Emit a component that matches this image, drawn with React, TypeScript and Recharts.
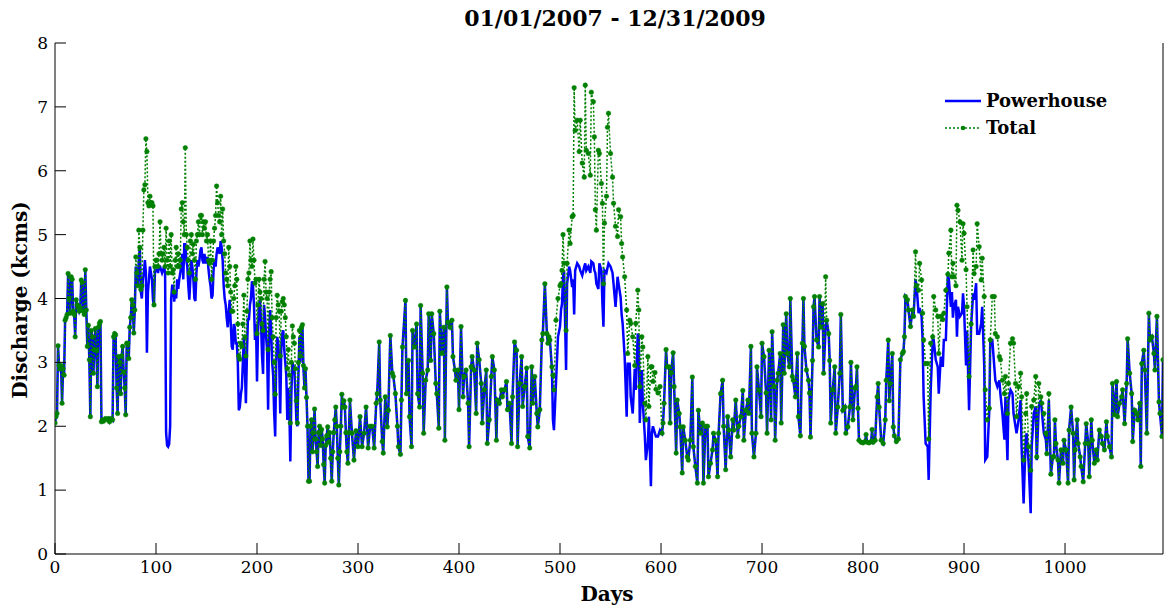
import { LineChart, Line, XAxis, YAxis } from 'recharts'

// Days 0-79: no spill, total = powerhouse
const daysA = [
  0, 1, 2, 3, 4, 5, 6, 7, 8, 9,
  10, 11, 12, 13, 14, 15, 16, 17, 18, 19,
  20, 21, 22, 23, 24, 25, 26, 27, 28, 29,
  30, 31, 32, 33, 34, 35, 36, 37, 38, 39,
  40, 41, 42, 43, 44, 45, 46, 47, 48, 50,
  52, 53, 54, 55, 56, 57, 58, 59, 60, 61,
  62, 63, 64, 65, 66, 67, 68, 69, 70, 71,
  72, 73, 74, 75, 76, 77, 78, 79,
]
const powerA = [
  2.05, 2.15, 2.2, 3.26, 2.95, 2.9, 2.95, 2.36, 2.9, 2.8,
  3.66, 3.7, 3.75, 4.39, 4.0, 3.77, 4.34, 4.3, 3.8, 3.75,
  3.4, 3.98, 3.9, 3.87, 3.8, 3.85, 4.29, 4.25, 3.8, 3.75,
  4.45, 3.82, 3.25, 3.58, 3.04, 2.15, 3.5, 3.4, 2.83, 3.2,
  3.53, 3.19, 2.62, 3.55, 3.61, 3.64, 2.07, 2.1, 2.08, 2.12,
  2.1, 2.12, 2.07, 2.1, 2.12, 2.1, 3.4, 3.45, 3.43, 2.6,
  2.2, 3.09, 3.0, 2.51, 3.1, 3.25, 2.85, 2.6, 2.18, 3.3,
  3.3, 3.06, 3.55, 3.7, 3.98, 3.9, 3.46, 3.82,
]
const totalA = [
  2.05, 2.15, 2.2, 3.26, 2.95, 2.9, 2.95, 2.36, 2.9, 2.8,
  3.66, 3.7, 3.75, 4.39, 4.0, 3.77, 4.34, 4.3, 3.8, 3.75,
  3.4, 3.98, 3.9, 3.87, 3.8, 3.85, 4.29, 4.25, 3.8, 3.75,
  4.45, 3.82, 3.25, 3.58, 3.04, 2.15, 3.5, 3.4, 2.83, 3.2,
  3.53, 3.19, 2.62, 3.55, 3.61, 3.64, 2.07, 2.1, 2.08, 2.12,
  2.1, 2.12, 2.07, 2.1, 2.12, 2.1, 3.4, 3.45, 3.43, 2.6,
  2.2, 3.09, 3.0, 2.51, 3.1, 3.25, 2.85, 2.6, 2.18, 3.3,
  3.3, 3.06, 3.55, 3.7, 3.98, 3.9, 3.46, 3.82,
]

// Days 80-196: spring spill 2007
const daysB = [
  80, 81, 82, 83, 84, 85, 86, 87, 88, 89,
  90, 91, 92, 93, 94, 95, 96, 97, 98, 99,
  100, 101, 102, 103, 104, 105, 106, 107, 108, 109,
  110, 111, 112, 113, 114, 115, 116, 117, 118, 119,
  120, 121, 122, 123, 124, 125, 126, 127, 128, 129,
  130, 131, 132, 133, 134, 135, 136, 137, 138, 139,
  140, 141, 142, 143, 144, 145, 146, 147, 148, 149,
  150, 151, 152, 153, 154, 155, 156, 157, 158, 159,
  160, 161, 162, 163, 164, 165, 166, 167, 168, 169,
  170, 171, 172, 173, 174, 175, 176, 177, 178, 179,
  180, 181, 182, 183, 184, 185, 186, 187, 188, 189,
  190, 191, 192, 193, 194, 195, 196,
]
const powerB = [
  4.5, 4.3, 4.2, 4.6, 4.8, 4.1, 4.0, 4.3, 4.4, 4.6,
  4.4, 3.15, 4.1, 4.3, 4.5, 4.4, 4.3, 3.98, 3.9, 4.45,
  4.45, 4.45, 4.4, 4.5, 4.5, 4.45, 4.4, 4.45, 4.5, 4.4,
  1.9, 1.7, 1.68, 1.72, 2.0, 4.0, 4.2, 4.2, 3.95, 4.1,
  4.0, 4.3, 4.15, 4.3, 4.4, 4.5, 4.7, 4.3, 4.85, 4.85,
  4.6, 4.5, 4.2, 3.98, 4.3, 4.6, 4.5, 4.3, 4.0, 3.96,
  4.4, 4.6, 4.5, 4.6, 4.75, 4.8, 4.6, 4.55, 4.7, 4.55,
  4.6, 4.65, 4.45, 4.3, 4.2, 4.0, 4.05, 4.45, 4.6, 4.5,
  4.7, 4.8, 4.75, 4.7, 4.9, 4.8, 4.6, 4.2, 4.0, 3.9,
  3.7, 3.55, 3.8, 3.98, 3.6, 3.25, 3.2, 3.6, 3.55, 3.3,
  3.3, 3.0, 2.25, 2.3, 2.5, 2.6, 3.0, 3.4, 2.9, 2.36,
  3.1, 3.7, 3.66, 3.9, 4.0, 4.27, 4.2,
]
const totalB = [
  4.65, 4.4, 4.2, 5.07, 4.8, 4.14, 4.2, 5.07, 5.7, 5.78,
  6.5, 6.3, 5.5, 5.45, 5.6, 5.5, 5.5, 5.45, 3.9, 4.5,
  4.6, 4.6, 4.5, 4.7, 5.2, 4.7, 4.6, 4.7, 4.8, 4.5,
  5.1, 4.6, 4.4, 4.9, 4.5, 5.0, 4.4, 4.45, 4.1, 4.6,
  4.8, 4.5, 4.7, 4.5, 4.6, 5.4, 5.5, 5.2, 5.0, 6.36,
  5.0, 4.8, 4.6, 4.4, 4.9, 5.0, 4.7, 4.85, 4.6, 4.3,
  4.9, 5.0, 5.2, 5.0, 5.3, 5.3, 5.0, 5.2, 5.1, 5.2,
  4.9, 5.0, 4.6, 4.55, 4.9, 4.3, 4.6, 4.9, 5.1, 5.3,
  5.76, 5.5, 5.3, 5.2, 5.6, 5.0, 5.4, 4.9, 4.7, 4.4,
  4.3, 4.2, 4.8, 4.5, 4.1, 3.8, 3.8, 4.0, 4.2, 4.5,
  4.3, 3.6, 3.1, 3.05, 3.3, 3.25, 3.6, 4.05, 3.4, 3.1,
  3.8, 4.3, 4.4, 4.9, 4.6, 4.5, 4.93,
]

// Days 197-250: spill tapering off
const daysC = [
  197, 198, 199, 200, 201, 202, 203, 204, 205, 206,
  207, 208, 209, 210, 211, 212, 213, 214, 215, 216,
  217, 218, 219, 220, 221, 222, 223, 224, 225, 226,
  227, 228, 229, 230, 231, 232, 233, 234, 235, 236,
  237, 238, 239, 240, 241, 242, 243, 244, 245, 246,
  247, 248, 249, 250,
]
const powerC = [
  3.9, 3.35, 3.6, 2.7, 3.5, 3.9, 3.97, 3.6, 3.1, 2.82,
  3.9, 3.7, 3.4, 3.2, 2.26, 3.5, 3.82, 3.5, 3.0, 2.8,
  2.2, 1.84, 3.0, 3.4, 3.3, 3.0, 2.2, 3.2, 3.45, 3.5,
  3.2, 3.0, 2.8, 2.1, 2.6, 2.3, 1.45, 2.5, 3.0, 2.95,
  2.9, 2.5, 2.1, 2.0, 2.8, 3.4, 3.0, 3.5, 3.55, 2.9,
  2.6, 2.9, 2.45, 2.0,
]
const totalC = [
  4.6, 4.24, 4.3, 3.45, 3.9, 4.3, 4.1, 4.0, 3.6, 3.5,
  4.3, 4.58, 4.1, 4.0, 3.2, 4.1, 4.3, 4.42, 3.7, 3.4,
  3.0, 2.5, 3.7, 4.05, 3.9, 3.8, 3.1, 3.8, 3.95, 4.0,
  3.9, 3.7, 3.4, 2.9, 3.2, 2.8, 2.05, 3.0, 3.57, 3.4,
  3.3, 2.9, 2.4, 2.05, 3.0, 3.5, 3.1, 3.55, 3.59, 2.95,
  2.6, 2.9, 2.45, 2.0,
]

// Days 251-489: no spill
const daysD = [
  251, 252, 253, 254, 255, 256, 257, 258, 259, 260,
  261, 262, 263, 264, 265, 266, 267, 268, 269, 270,
  271, 272, 273, 274, 275, 276, 277, 278, 279, 280,
  281, 282, 283, 284, 285, 286, 287, 288, 289, 290,
  291, 292,
  294, 296, 298, 300, 302, 304, 306, 308, 310, 312,
  314, 316, 318, 319, 321, 322, 324, 325, 327, 329,
  330, 332, 334, 335, 337, 339, 340, 342, 343, 344,
  347, 348, 350, 351, 353, 354, 356, 358, 359, 361,
  362, 364, 365, 367, 369, 370, 372, 373, 375, 377,
  378, 380, 381, 383, 385, 386, 388, 389, 391, 393,
  394, 396, 397, 399, 400, 402, 404, 405, 407, 409,
  410, 412, 413, 415, 417, 418, 420, 422, 423, 425,
  427, 428, 430, 432, 433, 435, 437, 438, 440, 442,
  443, 445, 447, 448, 450, 452, 453, 455, 457, 458,
  460, 462, 463, 465, 467, 468, 470, 472, 473, 475,
  477, 478, 480, 482, 483, 485, 487, 488, 489,
]
const powerD = [
  1.14, 1.14, 2.0, 2.1, 1.6, 1.9, 2.27, 1.8, 1.6, 1.37,
  1.9, 2.0, 1.7, 1.95, 1.8, 1.4, 1.11, 1.7, 1.85, 1.99,
  1.75, 1.9, 1.5, 1.14, 1.6, 1.9, 2.1, 2.3, 2.0, 1.5,
  1.08, 1.6, 2.0, 2.5, 2.3, 2.4, 2.3, 1.9, 1.6, 1.42,
  1.9, 2.41,
  1.89, 1.47, 1.93, 1.68, 2.15, 1.68, 1.89, 2.3, 1.66, 2.0,
  2.0, 1.66, 2.36, 2.51, 3.32, 2.41, 1.76, 1.58, 2.46, 1.99,
  2.25, 3.42, 2.83, 2.78, 2.51, 2.0, 1.68, 1.56, 2.41, 3.24,
  3.97, 2.51, 3.03, 2.15, 1.68, 3.5, 3.24, 3.6, 2.51, 2.3,
  3.89, 2.83, 1.89, 2.72, 2.88, 3.76, 3.03, 3.76, 3.45, 2.67,
  2.51, 1.97, 3.8, 3.14, 3.55, 1.78, 4.18, 3.63, 3.55, 3.66,
  3.09, 2.88, 2.72, 2.88, 2.26, 3.56, 2.46, 2.78, 2.88, 2.36,
  1.68, 2.93, 3.09, 2.88, 2.2, 3.3, 3.04, 2.67, 2.05, 2.57,
  2.88, 1.73, 2.1, 2.78, 3.09, 2.88, 1.78, 2.41, 2.36, 2.57,
  2.46, 2.57, 2.7, 2.26, 2.36, 1.73, 2.46, 3.32, 3.19, 1.68,
  2.67, 3.09, 2.31, 2.62, 2.91, 1.84, 1.66, 2.93, 2.36, 2.78,
  2.2, 1.99, 2.26, 3.35, 3.45, 4.23, 3.45, 3.3, 3.4,
]
const totalD = [
  1.14, 1.14, 2.0, 2.1, 1.6, 1.9, 2.27, 1.8, 1.6, 1.37,
  1.9, 2.0, 1.7, 1.95, 1.8, 1.4, 1.11, 1.7, 1.85, 1.99,
  1.75, 1.9, 1.5, 1.14, 1.6, 1.9, 2.1, 2.3, 2.0, 1.5,
  1.08, 1.6, 2.0, 2.5, 2.3, 2.4, 2.3, 1.9, 1.6, 1.42,
  1.9, 2.41,
  1.89, 1.47, 1.93, 1.68, 2.15, 1.68, 1.89, 2.3, 1.66, 2.0,
  2.0, 1.66, 2.36, 2.51, 3.32, 2.41, 1.76, 1.58, 2.46, 1.99,
  2.25, 3.42, 2.83, 2.78, 2.51, 2.0, 1.68, 1.56, 2.41, 3.24,
  3.97, 2.51, 3.03, 2.15, 1.68, 3.5, 3.24, 3.6, 2.51, 2.3,
  3.89, 2.83, 1.89, 2.72, 2.88, 3.76, 3.03, 3.76, 3.45, 2.67,
  2.51, 1.97, 3.8, 3.14, 3.55, 1.78, 4.18, 3.63, 3.55, 3.66,
  3.09, 2.88, 2.72, 2.88, 2.26, 3.56, 2.46, 2.78, 2.88, 2.36,
  1.68, 2.93, 3.09, 2.88, 2.2, 3.3, 3.04, 2.67, 2.05, 2.57,
  2.88, 1.73, 2.1, 2.78, 3.09, 2.88, 1.78, 2.41, 2.36, 2.57,
  2.46, 2.57, 2.7, 2.26, 2.36, 1.73, 2.46, 3.32, 3.19, 1.68,
  2.67, 3.09, 2.31, 2.62, 2.91, 1.84, 1.66, 2.93, 2.36, 2.78,
  2.2, 1.99, 2.26, 3.35, 3.45, 4.23, 3.45, 3.3, 3.4,
]

// Days 490-599: spring spill 2008
const daysE = [
  490, 492, 493, 494, 496, 498, 500, 501, 502, 503,
  504, 506, 507, 509, 510, 512, 513, 514, 515, 517,
  519, 520, 522, 524, 525, 526, 528, 530, 531, 533,
  534, 535, 536, 538, 539, 541, 542, 543, 544, 546,
  547, 548, 550, 552, 553, 555, 557, 558, 560, 561,
  562, 564, 566, 567, 569, 570, 572, 574, 575, 577,
  578, 579, 581, 582, 584, 585, 587, 588, 590, 591,
  592, 594, 595, 597, 599,
]
const powerE = [
  3.35, 2.9, 2.1, 1.94, 2.67, 3.4, 3.56, 3.82, 3.92, 4.34,
  4.44, 2.88, 4.23, 4.5, 4.44, 4.18, 4.3, 3.75, 4.44, 4.55,
  4.5, 4.44, 4.36, 4.5, 4.55, 4.44, 4.5, 4.4, 4.58, 4.55,
  4.44, 4.4, 4.23, 4.15, 4.55, 4.44, 3.92, 3.56, 4.44, 4.4,
  4.48, 4.55, 4.5, 4.4, 4.23, 3.87, 4.34, 4.23, 4.02, 3.75,
  3.61, 3.09, 2.15, 2.98, 2.98, 2.46, 2.2, 2.9, 2.57, 3.45,
  3.4, 2.05, 2.88, 2.36, 1.84, 1.47, 1.74, 2.15, 1.06, 1.9,
  2.0, 1.89, 1.84, 1.84, 1.94,
]
const totalE = [
  3.35, 2.93, 2.8, 2.57, 3.66, 4.0, 4.2, 4.23, 4.44, 5.0,
  4.55, 3.5, 4.55, 5.07, 4.86, 5.28, 5.3, 7.3, 6.63, 6.79,
  6.3, 6.79, 6.12, 5.9, 7.34, 6.32, 6.27, 5.93, 7.23, 7.08,
  6.53, 5.39, 5.07, 6.32, 6.27, 5.8, 5.49, 4.23, 5.18, 5.6,
  6.68, 6.9, 6.27, 5.9, 5.49, 5.13, 4.97, 5.39, 5.28, 4.86,
  4.65, 4.34, 3.82, 3.14, 3.66, 3.61, 3.4, 2.95, 3.61, 4.13,
  3.82, 2.62, 3.4, 3.24, 2.36, 2.1, 3.09, 2.31, 2.93, 2.93,
  2.7, 2.84, 2.58, 2.52, 2.62,
]

// Days 601-795: mostly no spill
const daysF = [
  601, 602, 603, 605, 606, 608, 609, 610, 612, 613,
  615, 616, 618, 619, 621, 622, 624, 626, 627, 629,
  631, 632, 634, 636, 637, 639, 641, 642, 644, 646,
  647, 649, 651, 652, 654, 656, 657, 659, 661, 662,
  664, 666, 667, 669, 671, 672, 674, 676, 677, 679,
  681, 682, 684, 686, 687, 689, 690, 692, 694, 695,
  697, 699, 700, 702, 704, 705, 707, 709, 710, 712,
  713, 715, 716, 718, 719, 721, 722, 724, 725, 727,
  728, 730, 731, 733, 735, 736, 738, 740, 741, 742,
  744, 746, 747, 748, 750, 751, 752, 754, 756, 757,
  758, 760, 761, 763, 764, 766, 767, 768, 770, 772,
  773, 775, 777, 778, 780, 782, 783, 785, 787, 788,
  790, 792, 793, 794, 795,
]
const powerF = [
  1.89, 2.05, 2.36, 3.2, 2.93, 2.93, 2.05, 2.84, 3.15, 2.62,
  1.58, 2.41, 2.2, 1.99, 1.27, 1.99, 1.78, 1.52, 1.47, 1.78,
  2.77, 1.68, 1.37, 1.11, 2.25, 1.89, 2.05, 1.11, 2.0, 2.0,
  1.21, 1.42, 1.63, 1.89, 1.78, 1.21, 1.89, 2.51, 2.72, 2.0,
  1.32, 2.15, 1.94, 1.52, 2.1, 1.94, 2.41, 1.84, 2.0, 2.15,
  2.56, 1.78, 2.25, 2.41, 2.2, 3.25, 1.89, 1.52, 1.89, 2.93,
  2.57, 2.15, 3.3, 3.09, 2.52, 1.89, 3.19, 2.1, 3.48, 2.62,
  1.78, 2.72, 2.83, 3.14, 2.05, 3.59, 2.83, 3.76, 3.14, 2.93,
  4.0, 2.78, 2.72, 2.46, 3.14, 2.15, 1.85, 3.3, 4.0, 3.25,
  2.88, 2.72, 2.52, 1.83, 3.03, 3.87, 4.03, 3.35, 3.24, 4.03,
  3.55, 3.92, 2.83, 3.56, 3.66, 3.45, 3.03, 2.05, 2.57, 2.93,
  1.89, 2.3, 2.83, 3.75, 2.25, 2.3, 1.89, 1.99, 2.3, 3.0,
  2.1, 2.6, 2.62, 2.93, 2.28,
]
const totalF = [
  1.89, 2.05, 2.36, 3.2, 2.93, 2.93, 2.05, 2.84, 3.15, 2.62,
  1.58, 2.41, 2.2, 1.99, 1.27, 1.99, 1.78, 1.52, 1.47, 1.78,
  2.77, 1.68, 1.37, 1.11, 2.25, 1.89, 2.05, 1.11, 2.0, 2.0,
  1.21, 1.42, 1.63, 1.89, 1.78, 1.21, 1.89, 2.51, 2.72, 2.0,
  1.32, 2.15, 1.94, 1.52, 2.1, 1.94, 2.41, 1.84, 2.0, 2.15,
  2.56, 1.78, 2.25, 2.41, 2.2, 3.25, 1.89, 1.52, 1.89, 2.93,
  2.57, 2.15, 3.3, 3.09, 2.52, 1.89, 3.19, 2.1, 3.48, 2.62,
  1.78, 2.72, 2.83, 3.14, 2.05, 3.59, 2.83, 3.76, 3.14, 2.93,
  4.0, 2.78, 2.72, 2.46, 3.14, 2.15, 1.85, 3.3, 4.0, 3.25,
  2.88, 2.72, 2.52, 1.83, 3.03, 3.87, 4.03, 3.35, 3.24, 4.03,
  3.55, 3.92, 2.83, 4.34, 3.66, 3.45, 3.03, 2.05, 2.57, 2.93,
  1.89, 2.3, 2.83, 3.75, 2.25, 2.3, 1.89, 1.99, 2.3, 3.0,
  2.1, 2.6, 2.62, 2.93, 2.28,
]

// Days 796-850: low flat flows, then rising
const daysG = [
  796, 798, 800, 802, 803, 804, 806, 808, 809, 810,
  812, 814, 815, 816, 818, 820, 822, 823, 825, 826,
  827, 829, 830, 831, 833, 835, 837, 839, 840, 841,
  842, 844, 845, 847, 849, 850,
]
const powerG = [
  1.78, 1.75, 1.74, 1.76, 1.87, 1.75, 1.74, 1.76, 1.95, 1.75,
  1.78, 2.46, 2.67, 2.3, 1.78, 1.73, 2.1, 2.72, 3.35, 2.4,
  2.67, 3.14, 1.99, 1.85, 1.76, 1.8, 3.04, 3.14, 3.17, 3.4,
  4.03, 3.98, 3.82, 3.56, 3.82, 3.72,
]
const totalG = [
  1.78, 1.75, 1.74, 1.76, 1.87, 1.75, 1.74, 1.76, 1.95, 1.75,
  1.78, 2.46, 2.67, 2.3, 1.78, 1.73, 2.1, 2.72, 3.35, 2.4,
  2.67, 3.14, 1.99, 1.85, 1.76, 1.8, 3.04, 3.14, 3.17, 3.4,
  4.03, 3.98, 3.82, 3.56, 3.82, 3.72,
]

// Days 852-986: spring spill 2009
const daysH = [
  852, 853, 855, 856, 858, 859, 860, 862, 864, 865,
  867, 869, 870, 872, 874, 875, 877, 879, 880, 882,
  884, 885, 887, 888, 889, 890, 892, 893, 894, 896,
  898, 899, 900, 902, 903, 905, 907, 909, 910, 912,
  913, 915, 917, 918, 920, 921, 923, 925, 926, 928,
  930, 931, 933, 935, 936, 938, 940, 941, 943, 944,
  946, 948, 949, 951, 952, 954, 956, 957, 959, 961,
  962, 964, 966, 967, 969, 971, 972, 974, 976, 977,
  979, 981, 982, 984, 986,
]
const powerH = [
  4.3, 4.2, 3.77, 3.85, 3.72, 3.35, 2.46, 1.73, 1.68, 1.16,
  2.56, 3.35, 3.35, 3.04, 2.93, 2.51, 3.09, 2.93, 3.35, 3.35,
  4.38, 4.3, 3.87, 4.1, 3.7, 3.87, 3.98, 3.4, 3.87, 3.72,
  3.77, 4.08, 3.87, 2.95, 3.5, 2.25, 3.56, 4.08, 3.98, 4.24,
  3.45, 3.45, 3.61, 3.87, 2.95, 1.47, 1.52, 2.25, 3.35, 3.35,
  2.93, 2.72, 2.62, 2.72, 2.51, 2.2, 1.79, 2.46, 1.47, 2.41,
  2.57, 2.51, 2.2, 1.99, 1.89, 2.1, 2.41, 1.68, 0.79, 1.78,
  1.89, 1.42, 0.64, 1.68, 2.2, 2.31, 1.47, 2.31, 2.41, 2.25,
  1.89, 1.79, 1.57, 2.41, 1.25,
]
const totalH = [
  4.73, 4.2, 4.13, 4.55, 4.29, 3.77, 3.35, 2.98, 2.98, 1.8,
  3.3, 3.4, 4.03, 3.82, 3.72, 3.14, 3.72, 3.67, 3.77, 4.13,
  4.38, 4.71, 5.07, 4.34, 4.55, 4.34, 4.2, 5.46, 5.38, 5.2,
  4.6, 5.17, 5.02, 4.45, 3.87, 2.78, 3.6, 4.76, 4.39, 4.5,
  5.17, 4.81, 4.29, 4.63, 4.03, 2.57, 2.1, 2.28, 3.35, 4.03,
  4.03, 3.45, 3.4, 3.09, 3.04, 2.72, 2.51, 2.78, 2.2, 2.67,
  3.3, 3.37, 3.3, 2.67, 2.15, 2.62, 2.83, 2.46, 1.47, 2.2,
  2.51, 1.68, 1.31, 2.31, 2.41, 2.78, 1.52, 2.67, 2.46, 2.36,
  2.2, 1.89, 1.57, 2.51, 1.25,
]

// Days 988-1097: no spill
const daysI = [
  988, 989, 990, 991, 993, 994, 996, 998, 999, 1001,
  1003, 1004, 1006, 1008, 1009, 1010, 1012, 1013, 1015, 1016,
  1018, 1020, 1021, 1023, 1024, 1026, 1027, 1029, 1031, 1032,
  1034, 1036, 1037, 1039, 1041, 1042, 1044, 1046, 1047, 1049,
  1051, 1052, 1054, 1056, 1057, 1059, 1061, 1062, 1064, 1066,
  1067, 1069, 1071, 1072, 1074, 1075, 1076, 1078, 1079, 1081,
  1083, 1084, 1086, 1088, 1089, 1091, 1093, 1094, 1096, 1097,
]
const powerI = [
  1.52, 1.52, 2.1, 1.73, 1.47, 1.11, 1.63, 1.42, 1.78, 1.63,
  1.11, 1.94, 2.3, 1.89, 1.16, 1.63, 2.1, 1.73, 1.52, 1.37,
  1.13, 1.73, 2.04, 1.73, 1.21, 2.1, 1.78, 1.42, 1.63, 1.47,
  1.94, 1.84, 1.73, 1.63, 2.07, 1.84, 1.68, 1.52, 2.67, 2.18,
  2.7, 2.15, 2.36, 2.46, 2.57, 2.04, 2.67, 3.37, 2.83, 2.51,
  1.76, 2.25, 2.2, 2.1, 2.36, 1.37, 2.98, 3.19, 2.88, 1.89,
  3.77, 3.35, 3.4, 3.14, 2.88, 3.72, 2.38, 2.2, 1.84, 3.04,
]
const totalI = [
  1.52, 1.52, 2.1, 1.73, 1.47, 1.11, 1.63, 1.42, 1.78, 1.63,
  1.11, 1.94, 2.3, 1.89, 1.16, 1.63, 2.1, 1.73, 1.52, 1.37,
  1.13, 1.73, 2.04, 1.73, 1.21, 2.1, 1.78, 1.42, 1.63, 1.47,
  1.94, 1.84, 1.73, 1.63, 2.07, 1.84, 1.68, 1.52, 2.67, 2.18,
  2.7, 2.15, 2.36, 2.46, 2.57, 2.04, 2.67, 3.37, 2.83, 2.51,
  1.76, 2.25, 2.2, 2.1, 2.36, 1.37, 2.98, 3.19, 2.88, 1.89,
  3.77, 3.35, 3.4, 3.14, 2.88, 3.72, 2.38, 2.2, 1.84, 3.04,
]

const xTicks = [0, 100, 200, 300, 400, 500, 600, 700, 800, 900, 1000]
const yTicks = [0, 1, 2, 3, 4, 5, 6, 7, 8]

const days = [...daysA, ...daysB, ...daysC, ...daysD, ...daysE, ...daysF, ...daysG, ...daysH, ...daysI]
const powerhouse = [...powerA, ...powerB, ...powerC, ...powerD, ...powerE, ...powerF, ...powerG, ...powerH, ...powerI]
const total = [...totalA, ...totalB, ...totalC, ...totalD, ...totalE, ...totalF, ...totalG, ...totalH, ...totalI]

const data = days.map((d, i) => ({ day: d, powerhouse: powerhouse[i], total: total[i] }))

const FONT = '"DejaVu Serif", serif'
const BLUE = '#0000ff'
const GREEN = '#008000'

export default function App() {
  return (
    <div style={{ position: 'absolute', left: 0, top: 0, width: 1165, height: 608, background: '#fff', fontFamily: FONT }}>
      <div style={{ position: 'absolute', left: 315, top: 4, width: 600, textAlign: 'center', fontSize: 22, fontWeight: 'bold', lineHeight: '28px' }}>
        01/01/2007 - 12/31/2009
      </div>
      <div style={{ position: 'absolute', left: 507, top: 581, width: 200, textAlign: 'center', fontSize: 20, fontWeight: 'bold', lineHeight: '26px' }}>
        Days
      </div>
      <div
        style={{
          position: 'absolute', left: 20, top: 300, fontSize: 20, fontWeight: 'bold', lineHeight: '26px',
          whiteSpace: 'nowrap', transform: 'translate(-50%, -50%) rotate(-90deg)',
        }}
      >
        Discharge (kcms)
      </div>

      <LineChart width={1165} height={608} data={data} margin={{ top: 43, right: 1, bottom: 0, left: 0 }}>
        <XAxis
          xAxisId="b" dataKey="day" type="number" domain={[0, 1097]} ticks={xTicks} allowDataOverflow
          height={54} tickSize={-11} tickMargin={18} stroke="#000"
          tick={{ fill: '#000', fontSize: 17, fontFamily: FONT }}
        />
        <XAxis
          xAxisId="t" orientation="top" dataKey="day" type="number" domain={[0, 1097]} ticks={xTicks} allowDataOverflow
          height={0} tickSize={-11} tick={false} stroke="#000"
        />
        <YAxis
          yAxisId="l" type="number" domain={[0, 8]} ticks={yTicks} allowDataOverflow
          width={55} tickSize={-11} tickMargin={18} stroke="#000"
          tick={{ fill: '#000', fontSize: 17, fontFamily: FONT }}
        />
        <YAxis
          yAxisId="r" orientation="right" type="number" domain={[0, 8]} ticks={yTicks} allowDataOverflow
          width={1} tickSize={-11} tick={false} stroke="#000"
        />
        <Line
          xAxisId="b" yAxisId="l" type="linear" dataKey="powerhouse" name="Powerhouse"
          stroke={BLUE} strokeWidth={2.5} dot={false} isAnimationActive={false}
        />
        <Line
          xAxisId="b" yAxisId="l" type="linear" dataKey="total" name="Total"
          stroke={GREEN} strokeWidth={1.5} strokeDasharray="2 2"
          dot={{ r: 2.3, fill: GREEN, stroke: GREEN, strokeWidth: 0.5, strokeDasharray: '' }}
          isAnimationActive={false}
        />
      </LineChart>

      <div style={{ position: 'absolute', left: 944, top: 87, fontSize: 18, fontWeight: 'bold', lineHeight: '27px' }}>
        <div style={{ display: 'flex', alignItems: 'center' }}>
          <svg width={38} height={10} style={{ marginRight: 4 }}>
            <line x1={1} y1={5} x2={37} y2={5} stroke={BLUE} strokeWidth={2.5} />
          </svg>
          <span>Powerhouse</span>
        </div>
        <div style={{ display: 'flex', alignItems: 'center' }}>
          <svg width={38} height={10} style={{ marginRight: 4 }}>
            <line x1={1} y1={5} x2={37} y2={5} stroke={GREEN} strokeWidth={1.5} strokeDasharray="2 2" />
            <circle cx={19} cy={5} r={2.3} fill={GREEN} />
          </svg>
          <span>Total</span>
        </div>
      </div>
    </div>
  )
}
